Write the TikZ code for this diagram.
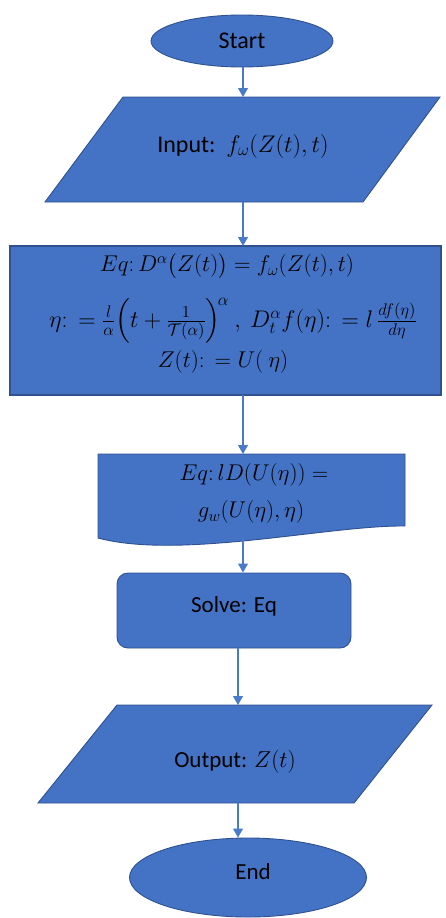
\RequirePackage{fix-cm}
\documentclass[tikz,border=0pt]{standalone}
\usepackage{amsmath}
\usepackage{fontspec}
\setmainfont{Carlito}
\usetikzlibrary{arrows.meta,shapes.geometric,calc}
\definecolor{fillblue}{HTML}{4472C4}
\definecolor{edgeblue}{HTML}{2F528F}
\definecolor{lineblue}{HTML}{4A7BC8}
\begin{document}
\begin{tikzpicture}[x=1pt,y=-1pt,
  shapefill/.style={fill=fillblue,draw=edgeblue,line width=0.9pt},
  bbox/.style={draw=none,inner sep=0pt,outer sep=0pt},
  lbl/.style={inner sep=0pt,font=\fontsize{23}{27}\selectfont,text=black},
  mth/.style={inner sep=0pt,text=black,font=\fontsize{#1}{26}\selectfont},
  arr/.style={draw=lineblue,line width=1.1pt,-{Triangle[width=10pt,length=9pt]}}]
\useasboundingbox (0,0) rectangle (445,918);
\coordinate (axA) at (243,0);
\coordinate (axB) at (238,0);

% Start
\node[ellipse,shapefill,minimum width=182pt,minimum height=52pt,inner sep=0pt,
      font=\fontsize{24}{28}\selectfont] (start) at (242,41) {Start};

% Input
\fill[shapefill] (123,97) -- (440,97) -- (363,202) -- (45,202) -- cycle;
\node[bbox,minimum width=395pt,minimum height=105pt] (input) at (242.5,149.5) {};
\node[lbl,font=\fontsize{24}{28}\selectfont] (inputtxt) at (243,146) {Input:\ \ $f_{\omega}(Z(t),t)$};

% Eq box
\fill[shapefill,line width=1.3pt] (10,246) rectangle (441,395);
\node[bbox,minimum width=431pt,minimum height=149pt] (eq) at (225.5,320.5) {};
\node[mth=22.8] (eqA) at (227,266) {$Eq{:}\,D^{\alpha}\bigl(Z(t)\bigr)=f_{\omega}(Z(t),t)$};
\node[mth=24] (eqB) at (233,321) {$\eta{:}\,=\frac{l}{\alpha}\Bigl(t+\frac{1}{\mathcal{T}(\alpha)}\Bigr)^{\!\alpha}\ ,\ D_t^{\alpha}f(\eta){:}\,=l\,\frac{df(\eta)}{d\eta}$};
\node[mth=22.8] (eqC) at (223,362) {$Z(t){:}\,=U(\ \eta)$};

% Document shape
\fill[shapefill] (98,454) -- (405,454) -- (405,526)
   .. controls (330,525) and (180,560) .. (98,538) -- cycle;
\node[bbox,minimum width=307pt,minimum height=86pt] (doc) at (251.5,497) {};
\node[mth=22.8] (docA) at (254,475) {$Eq{:}\,lD(U(\eta))=$};
\node[mth=22.8] (docB) at (251,512) {$g_w(U(\eta),\eta)$};

% Solve
\node[draw=edgeblue,fill=fillblue,line width=0.9pt,rounded corners=11pt,
      minimum width=234pt,minimum height=75pt,inner sep=0pt] (solve) at (234,610.5) {};
\node[lbl] (solvetxt) at (234,606) {Solve: Eq};

% Output
\fill[shapefill] (117,705) -- (432,705) -- (354,803) -- (38,803) -- cycle;
\node[bbox,minimum width=394pt,minimum height=98pt] (output) at (235,754) {};
\node[lbl] (outputtxt) at (235,762) {Output: $Z(t)$};

% End
\node[ellipse,shapefill,minimum width=237pt,minimum height=79pt,inner sep=0pt] (end) at (248,877.5) {};
\node[lbl] (endtxt) at (253,872) {End};

% connectors
\draw[arr] (start.south -| axA) -- (input.north -| axA);
\draw[arr] (input.south -| axA) -- (eq.north -| axA);
\draw[arr] (eq.south -| axA) -- (doc.north -| axA);
\draw[arr] ($(doc.south -| axA)+(0,-2)$) -- (solve.north -| axA);
\draw[arr] (solve.south -| axB) -- (output.north -| axB);
\draw[arr] (output.south -| axB) -- (end.north -| axB);
\end{tikzpicture}
\end{document}
